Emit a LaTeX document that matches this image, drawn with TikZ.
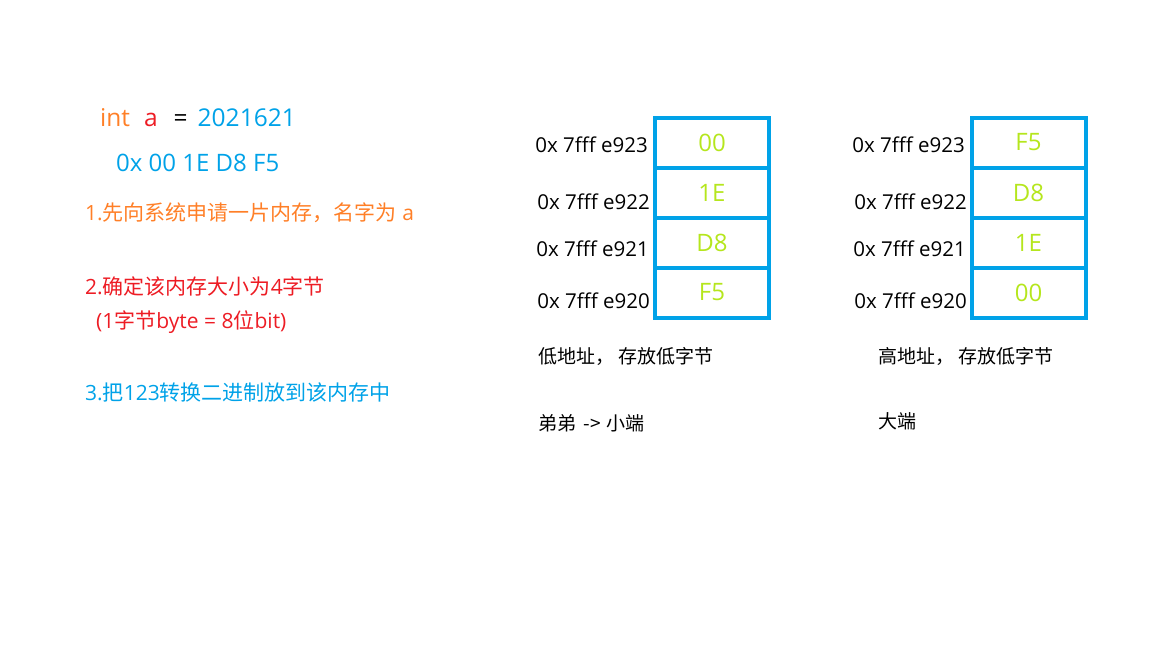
\documentclass[tikz,border=0pt]{standalone}
\usepackage{fontspec}
\setmainfont{Open Sans}
\newfontfamily\cjk{Noto Sans CJK SC}
\usetikzlibrary{positioning}
\definecolor{paintblue}{HTML}{00A2E8}
\definecolor{paintorange}{HTML}{FF7F27}
\definecolor{paintred}{HTML}{ED1C24}
\definecolor{paintlime}{HTML}{B5E61D}

\begin{document}
\begin{tikzpicture}[
    x=1pt, y=-1pt,
    node distance=0pt,
    txt/.style={anchor=west, inner sep=0pt},
    stepline/.style={anchor=west, inner sep=0pt, font=\fontsize{21}{24}\selectfont},
    addr/.style={anchor=east, inner sep=0pt, font=\fontsize{20.5}{24}\selectfont},
    cell/.style={draw=paintblue, line width=4pt, minimum width=114pt,
                 minimum height=50pt, inner sep=0pt, outer sep=0pt,
                 text=paintlime, font=\fontsize{24}{28}\selectfont},
    note/.style={anchor=west, inner sep=0pt, font=\cjk\fontsize{19}{22}\selectfont}
]
\useasboundingbox (0,0) rectangle (1152,648);

% left: the variable and the three steps
\node[txt, font=\fontsize{24.5}{28}\selectfont] (decl) at (100,118)
    {\color{paintorange}int\hspace{14pt}\color{paintred}a\hspace{16pt}\color{black}=\hspace{10pt}\color{paintblue}2021621};
\node[txt, font=\fontsize{24}{28}\selectfont, text=paintblue] (hex) at (116,163) {0x 00 1E D8 F5};

\node[stepline, text=paintorange] (step1) at (85,213) {1.{\cjk 先向系统申请一片内存，名字为} a};
\node[stepline, text=paintred]    (step2) at (85,286) {2.{\cjk 确定该内存大小为}4{\cjk 字节}};
\node[stepline, text=paintred]    (step2b) at (96,322) {(1{\cjk 字节}byte = 8{\cjk 位}bit)};
\node[stepline, text=paintblue]   (step3) at (85,393) {3.{\cjk 把}123{\cjk 转换二进制放到该内存中}};

% little endian
\node[cell] (lo3) at (712,142.5) {00};
\node[cell, below=of lo3] (lo2) {1E};
\node[cell, below=of lo2] (lo1) {D8};
\node[cell, below=of lo1] (lo0) {F5};

\node[addr] (loa3) at (648,145) {0x 7fff e923};
\node[addr] (loa2) at (650,202) {0x 7fff e922};
\node[addr] (loa1) at (649,249) {0x 7fff e921};
\node[addr] (loa0) at (650,301) {0x 7fff e920};

\node[note] (lonote) at (538,356) {低地址， 存放低字节};
\node[note] (loname) at (538,423) {弟弟\hspace{3pt} -> \hspace{2pt}小端};

% big endian
\node[cell] (hi3) at (1028.5,142.5) {F5};
\node[cell, below=of hi3] (hi2) {D8};
\node[cell, below=of hi2] (hi1) {1E};
\node[cell, below=of hi1] (hi0) {00};

\node[addr] (hia3) at (965,145) {0x 7fff e923};
\node[addr] (hia2) at (967,202) {0x 7fff e922};
\node[addr] (hia1) at (966,249) {0x 7fff e921};
\node[addr] (hia0) at (967,301) {0x 7fff e920};

\node[note] (hinote) at (878,356) {高地址， 存放低字节};
\node[note] (hiname) at (878,421) {大端};

\end{tikzpicture}
\end{document}
